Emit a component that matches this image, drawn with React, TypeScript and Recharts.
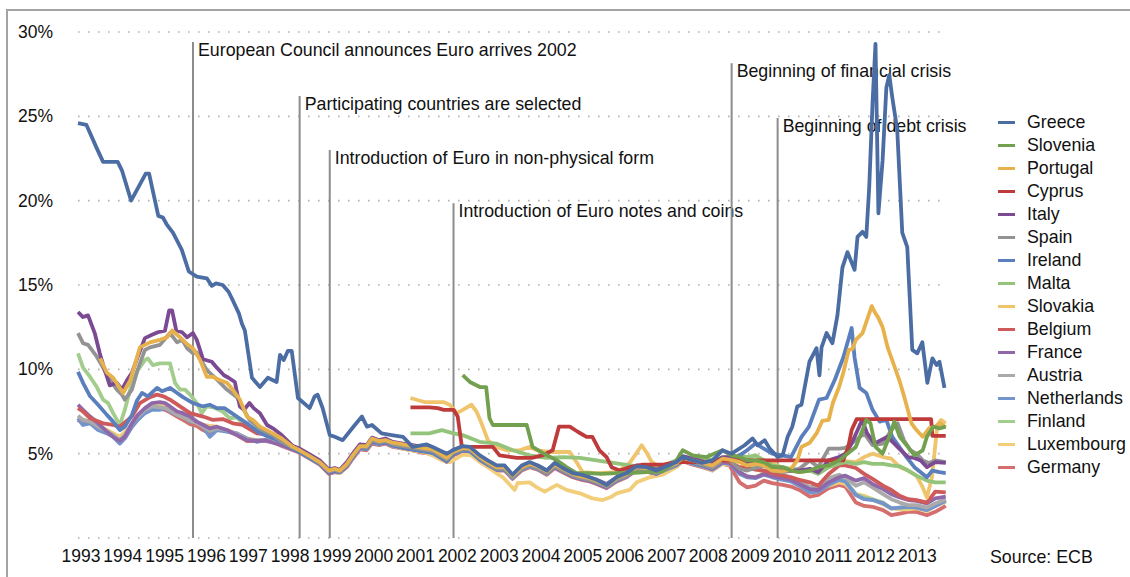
import React from 'react';
import { LineChart, Line, XAxis, YAxis, CartesianGrid, ReferenceLine } from 'recharts';

type Pt = [number, number];

// long-term government bond yields, %
const years = [1993, 1994, 1995, 1996, 1997, 1998, 1999, 2000, 2001, 2002, 2003, 2004, 2005, 2006, 2007, 2008, 2009, 2010, 2011, 2012, 2013];
const yTicks = [0, 5, 10, 15, 20, 25, 30];

// shared sample dates for the converged euro period and for the crisis period
const euroYears = [1998.14, 1998.3, 1998.54, 1998.78, 1999.0, 1999.14, 1999.26, 1999.43, 1999.57, 1999.74, 1999.9, 2000.03, 2000.2, 2000.35, 2000.53, 2000.77, 2001.0, 2001.24, 2001.48, 2001.65, 2001.82, 2001.96, 2002.2, 2002.37, 2002.61, 2002.8, 2003.01, 2003.2, 2003.39, 2003.61, 2003.8, 2003.99, 2004.21, 2004.4, 2004.59, 2004.83, 2005.04, 2005.23, 2005.4, 2005.64, 2005.88, 2006.12, 2006.35, 2006.59, 2006.83, 2006.97, 2007.31, 2007.46, 2007.7, 2007.93, 2008.17, 2008.41, 2008.58];
const crisisYears = [2008.82, 2009.0, 2009.2, 2009.4, 2009.6, 2009.85, 2010.05, 2010.25, 2010.5, 2010.7, 2010.95, 2011.2, 2011.35, 2011.6, 2011.8, 2012.0, 2012.25, 2012.45, 2012.65, 2012.85, 2013.05, 2013.3, 2013.5, 2013.75];

const greece: Pt[] = [
  [1993.0, 24.6], [1993.2, 24.5], [1993.45, 23.1], [1993.6, 22.3], [1993.95, 22.3], [1994.05, 21.8], [1994.27, 20.0], [1994.62, 21.6], [1994.7, 21.6], [1994.92, 19.1],
  [1995.03, 19.0], [1995.12, 18.6], [1995.27, 18.1], [1995.48, 17.1], [1995.65, 15.8], [1995.84, 15.5], [1996.08, 15.4], [1996.2, 14.95], [1996.3, 15.1], [1996.46, 15.0],
  [1996.6, 14.6], [1996.7, 14.1], [1996.85, 13.3], [1996.92, 12.7], [1996.99, 12.3], [1997.16, 9.5], [1997.35, 8.95], [1997.54, 9.5], [1997.75, 9.25], [1997.83, 10.85],
  [1997.92, 10.55], [1998.02, 11.1], [1998.11, 11.1], [1998.26, 8.3], [1998.54, 7.7], [1998.66, 8.4], [1998.73, 8.5], [1998.85, 7.7], [1999.02, 6.1], [1999.14, 6.0],
  [1999.33, 5.8], [1999.62, 6.7], [1999.79, 7.2], [1999.91, 6.6], [2000.03, 6.7], [2000.26, 6.2], [2000.5, 6.1], [2000.77, 6.0], [2001.0, 5.4], [2001.34, 5.55],
  [2001.48, 5.4], [2001.82, 5.0], [2001.96, 5.2], [2002.2, 5.45], [2002.37, 5.4], [2002.61, 4.9], [2002.8, 4.6], [2003.01, 4.3], [2003.2, 4.3], [2003.39, 3.75],
  [2003.61, 4.3], [2003.8, 4.5], [2003.99, 4.3], [2004.21, 4.0], [2004.4, 4.45], [2004.59, 4.15], [2004.83, 3.85], [2005.04, 3.75], [2005.23, 3.6], [2005.4, 3.45],
  [2005.64, 3.15], [2005.88, 3.6], [2006.12, 3.85], [2006.35, 4.25], [2006.59, 4.2], [2006.83, 4.0], [2006.97, 4.15], [2007.31, 4.5], [2007.46, 4.8], [2007.7, 4.6],
  [2007.93, 4.45], [2008.17, 4.6], [2008.41, 5.2], [2008.63, 5.0], [2008.94, 5.5], [2009.13, 5.9], [2009.25, 5.5], [2009.42, 5.8], [2009.54, 5.3], [2009.73, 4.8],
  [2009.85, 4.9], [2009.97, 6.0], [2010.08, 6.6], [2010.2, 7.8], [2010.3, 7.9], [2010.49, 10.45], [2010.66, 11.25], [2010.73, 9.65], [2010.78, 11.3], [2010.9, 12.15],
  [2011.04, 11.55], [2011.16, 13.2], [2011.28, 16.05], [2011.4, 16.95], [2011.57, 15.9], [2011.64, 17.85], [2011.76, 18.15], [2011.85, 17.85], [2011.92, 20.8], [2012.0, 25.8],
  [2012.07, 29.3], [2012.14, 19.25], [2012.24, 22.4], [2012.33, 26.7], [2012.4, 27.45], [2012.47, 26.15], [2012.59, 24.2], [2012.71, 18.1], [2012.83, 17.25], [2012.88, 14.7],
  [2012.95, 11.15], [2013.07, 10.95], [2013.19, 11.6], [2013.31, 9.2], [2013.43, 10.65], [2013.53, 10.25], [2013.6, 10.45], [2013.72, 8.9],
];

const slovenia: Pt[] = [
  [2002.2, 9.65], [2002.37, 9.25], [2002.61, 8.95], [2002.76, 8.95], [2002.84, 7.1], [2002.92, 6.7], [2003.73, 6.7], [2003.87, 5.4], [2004.11, 5.05], [2004.45, 4.6],
  [2004.68, 4.2], [2004.92, 3.85], [2005.2, 3.85], [2005.5, 3.8], [2005.88, 3.85], [2006.2, 3.85], [2006.6, 3.9], [2006.98, 3.95], [2007.31, 4.6], [2007.46, 5.2],
  [2007.7, 4.9], [2008.03, 4.8], [2008.41, 5.2], [2008.63, 4.9], [2008.82, 4.8], [2009.0, 4.6], [2009.2, 4.6], [2009.4, 4.5], [2009.6, 4.2], [2009.85, 4.2],
  [2010.05, 4.0], [2010.25, 3.9], [2010.5, 4.0], [2010.7, 4.2], [2010.95, 4.3], [2011.2, 4.6], [2011.35, 4.9], [2011.6, 5.4], [2011.76, 6.4], [2011.85, 7.0],
  [2011.95, 6.8], [2012.07, 5.4], [2012.24, 5.0], [2012.4, 6.0], [2012.52, 6.9], [2012.65, 6.0], [2012.85, 5.4], [2013.0, 4.9], [2013.2, 5.2], [2013.3, 6.0],
  [2013.45, 6.6], [2013.6, 6.5], [2013.75, 6.6],
];

const portugalEarly: Pt[] = [
  [1993.53, 10.65], [1993.69, 9.8], [1993.84, 9.5], [1994.08, 8.6], [1994.25, 9.35], [1994.48, 11.3], [1994.72, 11.6], [1994.96, 11.75], [1995.13, 11.9], [1995.25, 12.3],
  [1995.44, 11.9], [1995.63, 11.45], [1995.75, 11.25], [1995.92, 10.55], [1996.08, 9.55], [1996.23, 9.55], [1996.4, 9.35], [1996.56, 9.2], [1996.7, 8.8], [1996.87, 8.2],
  [1997.04, 7.2], [1997.18, 7.0], [1997.35, 6.6], [1997.66, 6.2], [1997.87, 5.9],
];
const portugalEuro = [
  5.4, 5.2, 4.85, 4.5, 4.0, 4.1, 4.0, 4.4, 4.9, 5.45,
  5.45, 5.9, 5.75, 5.8, 5.65, 5.55, 5.45, 5.35, 5.25, 5.0,
  4.75, 5.1, 5.35, 5.3, 4.8, 4.5, 4.2, 4.2, 3.7, 4.2,
  4.4, 4.25, 3.95, 4.35, 4.1, 3.8, 3.65, 3.55, 3.4, 3.15,
  3.55, 3.8, 4.2, 4.15, 3.95, 4.1, 4.45, 4.75, 4.6, 4.45,
  4.3, 4.7, 4.65,
];
const portugalCrisis: Pt[] = [
  [2008.82, 4.5], [2009.0, 4.3], [2009.2, 4.4], [2009.4, 4.3], [2009.6, 4.0], [2009.85, 3.95], [2010.05, 4.1], [2010.2, 4.6], [2010.3, 5.4], [2010.5, 5.65],
  [2010.66, 6.2], [2010.8, 6.95], [2010.95, 7.0], [2011.05, 8.0], [2011.2, 8.95], [2011.3, 9.8], [2011.43, 11.15], [2011.52, 11.2], [2011.6, 11.75], [2011.76, 12.15],
  [2011.98, 13.75], [2012.05, 13.4], [2012.14, 13.05], [2012.24, 12.5], [2012.36, 11.3], [2012.47, 10.55], [2012.64, 9.35], [2012.76, 8.35], [2012.93, 6.8], [2013.05, 6.4],
  [2013.2, 6.0], [2013.35, 6.5], [2013.5, 6.6], [2013.62, 6.8], [2013.75, 6.55],
];

const cyprus: Pt[] = [
  [2000.95, 7.75], [2001.4, 7.75], [2001.6, 7.7], [2001.75, 7.6], [2001.98, 7.6], [2002.08, 7.2], [2002.18, 5.4], [2002.92, 5.4], [2003.08, 4.9], [2003.5, 4.75],
  [2003.85, 4.75], [2004.11, 4.9], [2004.35, 5.2], [2004.5, 6.6], [2004.76, 6.6], [2004.95, 6.3], [2005.16, 6.0], [2005.3, 6.0], [2005.47, 5.2], [2005.64, 4.8],
  [2005.76, 4.2], [2005.95, 4.0], [2006.2, 4.2], [2006.5, 4.35], [2007.0, 4.35], [2007.3, 4.5], [2007.6, 4.5], [2008.0, 4.5], [2008.3, 4.6], [2008.6, 4.6],
  [2011.3, 4.6], [2011.42, 5.4], [2011.5, 6.4], [2011.62, 7.05], [2013.4, 7.05], [2013.43, 6.05], [2013.75, 6.05],
];

const italyEarly: Pt[] = [
  [1993.0, 13.4], [1993.12, 13.1], [1993.24, 13.2], [1993.4, 12.15], [1993.52, 10.95], [1993.64, 9.95], [1993.76, 9.05], [1993.93, 9.2], [1994.05, 8.8], [1994.17, 9.35],
  [1994.29, 9.8], [1994.43, 10.75], [1994.6, 11.85], [1994.77, 12.05], [1994.91, 12.2], [1995.08, 12.3], [1995.18, 13.5], [1995.25, 13.5], [1995.35, 12.3], [1995.49, 12.2],
  [1995.61, 11.9], [1995.75, 12.15], [1995.84, 11.75], [1995.99, 10.6], [1996.2, 10.45], [1996.32, 10.1], [1996.49, 9.65], [1996.6, 9.5], [1996.75, 9.25], [1996.87, 7.8],
  [1996.97, 7.6], [1997.1, 8.0], [1997.2, 7.7], [1997.35, 7.4], [1997.52, 6.7], [1997.66, 6.5], [1997.87, 6.1],
];
const italyEuro = [
  5.45, 5.3, 4.95, 4.6, 4.05, 4.15, 4.05, 4.5, 5.0, 5.55,
  5.5, 5.95, 5.8, 5.9, 5.7, 5.6, 5.5, 5.4, 5.3, 5.05,
  4.8, 5.2, 5.4, 5.35, 4.85, 4.55, 4.25, 4.25, 3.75, 4.25,
  4.45, 4.3, 4.0, 4.4, 4.15, 3.85, 3.7, 3.6, 3.45, 3.2,
  3.6, 3.9, 4.3, 4.25, 4.05, 4.2, 4.55, 4.85, 4.7, 4.55,
  4.4, 4.8, 4.8,
];
const italyCrisis: Pt[] = [
  [2008.82, 4.6], [2009.0, 4.4], [2009.2, 4.5], [2009.4, 4.4], [2009.6, 4.2], [2009.85, 4.05], [2010.05, 4.0], [2010.25, 4.0], [2010.5, 4.1], [2010.7, 3.9],
  [2010.95, 4.6], [2011.2, 4.8], [2011.35, 5.0], [2011.5, 5.6], [2011.75, 7.0], [2011.87, 6.2], [2012.05, 5.6], [2012.2, 5.8], [2012.35, 6.0], [2012.52, 5.6],
  [2012.68, 5.2], [2012.85, 4.8], [2013.0, 4.75], [2013.15, 4.6], [2013.3, 4.2], [2013.5, 4.5], [2013.75, 4.45],
];

const spainEarly: Pt[] = [
  [1993.0, 12.15], [1993.12, 11.55], [1993.24, 11.45], [1993.45, 10.75], [1993.6, 10.1], [1993.76, 9.4], [1993.93, 8.8], [1994.05, 8.5], [1994.12, 8.2], [1994.29, 8.8],
  [1994.43, 10.0], [1994.6, 11.15], [1994.72, 11.3], [1994.96, 11.45], [1995.2, 12.15], [1995.37, 11.6], [1995.49, 11.75], [1995.61, 11.25], [1995.75, 10.95], [1995.84, 11.0],
  [1996.08, 9.95], [1996.32, 9.4], [1996.56, 8.8], [1996.8, 8.35], [1997.1, 7.0], [1997.4, 6.4], [1997.66, 6.1], [1997.87, 5.7],
];
const spainEuro = [
  5.35, 5.2, 4.85, 4.45, 3.95, 4.05, 3.95, 4.3, 4.85, 5.4,
  5.35, 5.8, 5.65, 5.75, 5.55, 5.45, 5.35, 5.25, 5.15, 4.9,
  4.65, 5.05, 5.25, 5.25, 4.75, 4.4, 4.1, 4.1, 3.6, 4.1,
  4.3, 4.15, 3.85, 4.25, 4.0, 3.7, 3.55, 3.45, 3.3, 3.05,
  3.45, 3.7, 4.1, 4.05, 3.85, 4.0, 4.35, 4.65, 4.5, 4.35,
  4.15, 4.6, 4.6,
];
const spainCrisis: Pt[] = [
  [2008.82, 4.1], [2009.0, 4.0], [2009.2, 4.15], [2009.4, 4.3], [2009.6, 4.0], [2009.85, 3.9], [2010.05, 4.0], [2010.25, 4.1], [2010.5, 4.6], [2010.7, 4.2],
  [2010.95, 5.3], [2011.2, 5.3], [2011.35, 5.35], [2011.6, 5.8], [2011.8, 6.2], [2012.0, 5.5], [2012.25, 5.6], [2012.45, 6.4], [2012.6, 6.8], [2012.75, 5.8],
  [2012.9, 5.2], [2013.05, 5.0], [2013.2, 4.6], [2013.35, 4.45], [2013.5, 4.6], [2013.75, 4.5],
];

const irelandEarly: Pt[] = [
  [1993.0, 9.85], [1993.12, 9.2], [1993.29, 8.4], [1993.48, 7.9], [1993.69, 7.3], [1993.84, 6.9], [1994.0, 6.4], [1994.12, 6.6], [1994.29, 7.3], [1994.41, 8.15],
  [1994.53, 8.6], [1994.67, 8.4], [1994.89, 8.9], [1995.01, 8.7], [1995.2, 8.9], [1995.37, 8.6], [1995.51, 8.35], [1995.75, 8.0], [1995.99, 7.8], [1996.15, 7.9],
  [1996.32, 7.7], [1996.5, 7.7], [1996.8, 7.2], [1997.04, 6.8], [1997.3, 6.3], [1997.55, 6.0], [1997.8, 5.8],
];
const irelandEuro = [
  5.3, 5.1, 4.75, 4.4, 3.9, 4.0, 3.9, 4.3, 4.8, 5.4,
  5.3, 5.75, 5.6, 5.7, 5.5, 5.35, 5.25, 5.15, 5.05, 4.8,
  4.55, 4.95, 5.2, 5.15, 4.65, 4.35, 4.05, 4.05, 3.6, 4.1,
  4.3, 4.15, 3.85, 4.25, 4.0, 3.7, 3.55, 3.45, 3.3, 3.05,
  3.45, 3.7, 4.1, 4.05, 3.85, 4.0, 4.35, 4.65, 4.45, 4.3,
  4.2, 4.6, 4.6,
];
const irelandCrisis: Pt[] = [
  [2008.82, 4.9], [2009.0, 5.2], [2009.2, 5.6], [2009.4, 5.3], [2009.6, 5.0], [2009.85, 4.9], [2010.05, 4.8], [2010.3, 6.0], [2010.48, 6.6], [2010.72, 8.2],
  [2010.9, 8.3], [2011.1, 9.4], [2011.3, 10.7], [2011.5, 12.45], [2011.57, 10.7], [2011.69, 8.9], [2011.85, 8.6], [2012.0, 7.6], [2012.17, 6.9], [2012.33, 7.0],
  [2012.47, 6.0], [2012.64, 5.4], [2012.81, 4.8], [2013.0, 4.2], [2013.3, 3.6], [2013.43, 4.0], [2013.6, 3.9], [2013.75, 3.85],
];

const malta: Pt[] = [
  [2000.95, 6.2], [2001.4, 6.2], [2001.7, 6.4], [2001.98, 6.2], [2002.2, 6.1], [2002.6, 5.7], [2003.0, 5.6], [2003.4, 5.2], [2003.8, 4.9], [2004.2, 4.75],
  [2004.6, 4.8], [2005.0, 4.75], [2005.4, 4.6], [2005.8, 4.45], [2006.2, 4.3], [2006.6, 4.2], [2007.0, 4.3], [2007.3, 4.6], [2007.5, 4.8], [2007.75, 4.7],
  [2008.0, 4.6], [2008.3, 4.7], [2008.58, 4.8], [2008.82, 4.9], [2009.0, 4.8], [2009.2, 4.9], [2009.4, 4.6], [2009.6, 4.3], [2009.85, 4.2], [2010.05, 4.1],
  [2010.25, 4.05], [2010.5, 4.0], [2010.7, 3.8], [2010.95, 4.2], [2011.2, 4.4], [2011.35, 4.5], [2011.6, 4.4], [2011.8, 4.5], [2012.0, 4.4], [2012.25, 4.4],
  [2012.45, 4.3], [2012.65, 4.25], [2012.85, 4.0], [2013.05, 3.7], [2013.3, 3.4], [2013.5, 3.3], [2013.75, 3.3],
];

const slovakia: Pt[] = [
  [2000.95, 8.3], [2001.3, 8.05], [2001.75, 8.05], [2001.89, 7.9], [2002.06, 7.4], [2002.2, 7.6], [2002.41, 7.9], [2002.53, 7.5], [2002.65, 6.8], [2002.8, 5.8],
  [2003.01, 5.4], [2003.25, 5.2], [2003.56, 5.2], [2003.8, 5.4], [2003.97, 5.2], [2004.28, 5.1], [2004.76, 5.1], [2004.92, 4.5], [2005.07, 3.9], [2005.4, 3.85],
  [2005.88, 3.9], [2006.19, 4.45], [2006.36, 5.05], [2006.48, 5.5], [2006.6, 5.05], [2006.72, 4.5], [2006.98, 4.15], [2007.31, 4.45], [2007.5, 4.7], [2007.75, 4.5],
  [2008.0, 4.4], [2008.3, 4.6], [2008.58, 4.7], [2008.82, 4.6], [2009.0, 4.7], [2009.2, 4.9], [2009.4, 4.6], [2009.6, 4.5], [2009.85, 4.1], [2010.05, 4.0],
  [2010.25, 3.9], [2010.5, 4.0], [2010.7, 4.0], [2010.95, 4.4], [2011.2, 4.7], [2011.35, 4.55], [2011.6, 4.5], [2011.8, 4.8], [2012.0, 5.0], [2012.25, 4.8],
  [2012.45, 4.7], [2012.65, 4.2], [2012.85, 4.0], [2013.05, 3.7], [2013.2, 3.0], [2013.3, 2.4], [2013.42, 3.6], [2013.55, 6.7], [2013.64, 7.0], [2013.75, 6.8],
];

const belgiumEarly: Pt[] = [
  [1993.0, 7.7], [1993.12, 7.5], [1993.29, 7.1], [1993.6, 6.8], [1993.84, 6.7], [1994.0, 6.6], [1994.29, 7.2], [1994.48, 8.0], [1994.72, 8.35], [1994.89, 8.5],
  [1995.04, 8.4], [1995.2, 8.2], [1995.44, 7.8], [1995.68, 7.4], [1995.99, 7.2], [1996.23, 7.0], [1996.46, 7.05], [1996.7, 6.8], [1996.94, 6.7], [1997.28, 6.2],
  [1997.52, 6.15], [1997.75, 5.85],
];
const belgiumEuro = [
  5.4, 5.2, 4.85, 4.5, 4.0, 4.1, 4.0, 4.35, 4.9, 5.45,
  5.4, 5.85, 5.7, 5.75, 5.6, 5.5, 5.4, 5.3, 5.2, 4.95,
  4.7, 5.1, 5.3, 5.3, 4.8, 4.45, 4.15, 4.15, 3.7, 4.2,
  4.35, 4.2, 3.9, 4.3, 4.05, 3.75, 3.6, 3.5, 3.35, 3.1,
  3.5, 3.75, 4.15, 4.1, 3.9, 4.05, 4.4, 4.7, 4.5, 4.35,
  4.25, 4.6, 4.5,
];
const belgiumCrisis = [4.2, 4.15, 4.05, 4.0, 3.85, 3.7, 3.6, 3.45, 3.3, 3.1, 3.8, 4.3, 4.3, 4.15, 3.8, 3.5, 3.1, 2.85, 2.5, 2.3, 2.25, 2.1, 2.75, 2.7];

const franceEarly: Pt[] = [
  [1993.0, 7.9], [1993.12, 7.6], [1993.29, 7.2], [1993.48, 6.8], [1993.69, 6.3], [1993.84, 6.0], [1994.0, 5.75], [1994.12, 6.0], [1994.29, 6.8], [1994.43, 7.3],
  [1994.6, 7.7], [1994.77, 8.0], [1994.96, 8.05], [1995.08, 8.0], [1995.2, 7.8], [1995.37, 7.5], [1995.51, 7.4], [1995.68, 7.2], [1995.84, 6.9], [1996.0, 6.7],
  [1996.15, 6.5], [1996.32, 6.6], [1996.56, 6.4], [1996.8, 6.1], [1997.04, 5.8], [1997.28, 5.75], [1997.47, 5.8], [1997.66, 5.65], [1997.87, 5.5],
];
const franceEuro = [
  5.25, 5.1, 4.75, 4.4, 3.85, 3.95, 3.9, 4.25, 4.8, 5.35,
  5.3, 5.7, 5.6, 5.65, 5.5, 5.35, 5.25, 5.15, 5.1, 4.85,
  4.55, 4.95, 5.2, 5.2, 4.65, 4.35, 4.05, 4.1, 3.6, 4.1,
  4.3, 4.15, 3.85, 4.2, 3.95, 3.65, 3.5, 3.4, 3.25, 3.0,
  3.4, 3.7, 4.05, 4.05, 3.8, 4.0, 4.35, 4.6, 4.45, 4.3,
  4.1, 4.5, 4.45,
];
const franceCrisis = [3.9, 3.65, 3.6, 3.8, 3.65, 3.55, 3.45, 3.2, 2.9, 2.85, 3.3, 3.6, 3.7, 3.4, 3.55, 3.2, 2.9, 2.6, 2.4, 2.25, 2.2, 2.05, 2.35, 2.45];

const austriaEarly: Pt[] = [
  [1993.0, 7.25], [1993.12, 7.0], [1993.29, 6.9], [1993.48, 6.6], [1993.69, 6.35], [1993.84, 6.1], [1994.0, 5.8], [1994.12, 6.1], [1994.29, 6.8], [1994.43, 7.2],
  [1994.6, 7.6], [1994.77, 7.8], [1994.96, 7.75], [1995.08, 7.7], [1995.2, 7.55], [1995.37, 7.3], [1995.51, 7.15], [1995.68, 6.95], [1995.84, 6.8], [1995.99, 6.6],
  [1996.15, 6.35], [1996.32, 6.5], [1996.56, 6.4], [1996.8, 6.15], [1997.04, 5.85], [1997.28, 5.8], [1997.47, 5.8], [1997.66, 5.7], [1997.87, 5.5],
];
const austriaEuro = [
  5.35, 5.15, 4.8, 4.5, 3.9, 4.05, 3.95, 4.3, 4.85, 5.4,
  5.35, 5.8, 5.65, 5.7, 5.55, 5.45, 5.35, 5.25, 5.15, 4.9,
  4.65, 5.05, 5.25, 5.25, 4.75, 4.45, 4.1, 4.15, 3.65, 4.15,
  4.35, 4.2, 3.9, 4.3, 4.05, 3.75, 3.6, 3.45, 3.35, 3.1,
  3.5, 3.75, 4.15, 4.1, 3.9, 4.05, 4.4, 4.7, 4.5, 4.35,
  4.2, 4.6, 4.6,
];
const austriaCrisis = [4.1, 4.2, 4.1, 4.0, 3.9, 3.75, 3.6, 3.4, 3.0, 3.1, 3.55, 3.75, 3.6, 3.1, 3.3, 3.0, 2.6, 2.3, 2.1, 1.95, 1.95, 1.8, 2.05, 2.3];

const netherlandsEarly: Pt[] = [
  [1993.0, 7.1], [1993.12, 6.7], [1993.29, 6.8], [1993.48, 6.4], [1993.69, 6.2], [1993.84, 6.0], [1994.0, 5.6], [1994.12, 5.9], [1994.29, 6.6], [1994.43, 7.0],
  [1994.6, 7.4], [1994.77, 7.6], [1994.96, 7.6], [1995.08, 7.7], [1995.2, 7.5], [1995.37, 7.3], [1995.51, 7.2], [1995.68, 6.9], [1995.84, 6.9], [1995.99, 6.6],
  [1996.15, 6.0], [1996.32, 6.4], [1996.56, 6.3], [1996.8, 6.2], [1997.04, 5.9], [1997.28, 5.7], [1997.47, 5.8], [1997.66, 5.75], [1997.87, 5.5],
];
const netherlandsEuro = [
  5.25, 5.1, 4.75, 4.4, 3.85, 3.95, 3.9, 4.25, 4.75, 5.3,
  5.25, 5.7, 5.55, 5.65, 5.45, 5.35, 5.25, 5.15, 5.05, 4.8,
  4.55, 4.95, 5.2, 5.15, 4.65, 4.35, 4.05, 4.05, 3.55, 4.05,
  4.25, 4.1, 3.8, 4.2, 3.95, 3.65, 3.5, 3.4, 3.25, 3.0,
  3.4, 3.65, 4.05, 4.0, 3.8, 3.95, 4.3, 4.6, 4.4, 4.25,
  4.05, 4.45, 4.4,
];
const netherlandsCrisis = [3.8, 3.6, 3.55, 3.75, 3.6, 3.45, 3.35, 3.1, 2.7, 2.75, 3.15, 3.45, 3.35, 2.55, 2.3, 2.25, 2.05, 1.75, 1.8, 1.85, 1.8, 1.65, 1.9, 2.2];

const finlandEarly: Pt[] = [
  [1993.0, 10.95], [1993.12, 10.1], [1993.29, 9.55], [1993.45, 8.95], [1993.6, 8.2], [1993.72, 8.0], [1993.84, 7.4], [1994.0, 6.7], [1994.12, 7.6], [1994.29, 9.2],
  [1994.43, 9.95], [1994.6, 10.55], [1994.67, 10.65], [1994.79, 10.25], [1994.96, 10.35], [1995.2, 10.35], [1995.32, 9.2], [1995.44, 8.8], [1995.56, 8.8], [1995.68, 8.5],
  [1995.84, 8.0], [1995.96, 7.4], [1996.08, 7.8], [1996.23, 7.75], [1996.46, 7.5], [1996.63, 7.1], [1996.8, 7.15], [1996.94, 6.8], [1997.1, 6.5], [1997.28, 6.5],
  [1997.5, 6.2], [1997.75, 5.8],
];
const finlandEuro = [
  5.3, 5.15, 4.8, 4.45, 3.9, 4.0, 3.9, 4.3, 4.85, 5.4,
  5.3, 5.75, 5.6, 5.7, 5.5, 5.4, 5.3, 5.2, 5.1, 4.85,
  4.6, 5.0, 5.25, 5.2, 4.7, 4.4, 4.1, 4.1, 3.6, 4.1,
  4.3, 4.15, 3.85, 4.25, 4.0, 3.7, 3.55, 3.45, 3.3, 3.05,
  3.45, 3.7, 4.1, 4.05, 3.85, 4.0, 4.35, 4.65, 4.45, 4.3,
  4.1, 4.5, 4.5,
];
const finlandCrisis = [3.85, 3.65, 3.6, 3.8, 3.65, 3.5, 3.4, 3.15, 2.75, 2.8, 3.2, 3.5, 3.4, 2.6, 2.4, 2.3, 2.1, 1.75, 1.8, 1.8, 1.85, 1.7, 1.95, 2.25];

const luxembourg: Pt[] = [
  [1993.0, 7.1], [1993.29, 6.9], [1993.69, 6.4], [1994.0, 6.0], [1994.29, 6.7], [1994.6, 7.6], [1994.77, 7.8], [1995.08, 7.85], [1995.37, 7.4], [1995.68, 7.0],
  [1995.99, 6.7], [1996.32, 6.6], [1996.56, 6.4], [1996.8, 6.2], [1997.04, 5.9], [1997.28, 5.8], [1997.47, 5.8], [1997.66, 5.7], [1997.87, 5.5], [1998.14, 5.25],
  [1998.3, 5.1], [1998.54, 4.75], [1998.78, 4.4], [1999.0, 3.85], [1999.14, 3.95], [1999.26, 3.85], [1999.43, 4.25], [1999.57, 4.75], [1999.74, 5.3], [1999.9, 5.25],
  [2000.03, 5.7], [2000.2, 5.55], [2000.35, 5.65], [2000.53, 5.45], [2000.77, 5.3], [2001.0, 5.2], [2001.24, 5.1], [2001.48, 4.9], [2001.7, 4.6], [2001.9, 4.5],
  [2002.2, 4.95], [2002.4, 4.9], [2002.61, 4.5], [2002.8, 4.2], [2003.0, 3.85], [2003.16, 3.6], [2003.44, 2.85], [2003.51, 3.25], [2003.8, 3.3], [2003.97, 3.0],
  [2004.16, 2.75], [2004.45, 3.15], [2004.68, 2.85], [2005.0, 2.65], [2005.3, 2.35], [2005.55, 2.25], [2005.76, 2.45], [2005.88, 2.65], [2006.19, 2.85], [2006.36, 3.3],
  [2006.67, 3.6], [2006.98, 3.75], [2007.31, 4.2], [2007.46, 4.6], [2007.7, 4.4], [2007.93, 4.25], [2008.17, 4.0], [2008.41, 4.4], [2008.58, 4.35],
];
const luxembourgCrisis = [4.2, 4.3, 4.1, 3.9, 3.8, 3.6, 3.5, 3.3, 3.0, 2.9, 3.1, 3.3, 3.2, 2.6, 2.5, 2.3, 2.0, 1.75, 1.7, 1.7, 1.75, 1.6, 1.9, 2.15];

const germanyEarly: Pt[] = [
  [1993.0, 7.0], [1993.12, 6.8], [1993.29, 6.85], [1993.48, 6.5], [1993.69, 6.25], [1993.84, 6.05], [1994.0, 5.7], [1994.12, 5.95], [1994.29, 6.6], [1994.43, 7.05],
  [1994.6, 7.5], [1994.77, 7.7], [1994.96, 7.65], [1995.08, 7.6], [1995.2, 7.45], [1995.37, 7.2], [1995.51, 7.0], [1995.68, 6.75], [1995.84, 6.65], [1995.99, 6.4],
  [1996.15, 6.2], [1996.32, 6.45], [1996.56, 6.35], [1996.8, 6.1], [1997.04, 5.75], [1997.28, 5.75], [1997.47, 5.75], [1997.66, 5.7], [1997.87, 5.45],
];
const germanyEuro = [
  5.2, 5.05, 4.7, 4.35, 3.8, 3.9, 3.85, 4.2, 4.7, 5.25,
  5.2, 5.6, 5.5, 5.6, 5.4, 5.3, 5.2, 5.05, 5.0, 4.75,
  4.5, 4.9, 5.1, 5.1, 4.6, 4.3, 4.0, 4.0, 3.5, 4.0,
  4.2, 4.05, 3.75, 4.15, 3.9, 3.6, 3.45, 3.35, 3.2, 2.95,
  3.35, 3.6, 4.0, 3.95, 3.75, 3.9, 4.25, 4.55, 4.35, 4.2,
  4.0, 4.4, 4.3,
];
const germanyCrisis = [3.3, 3.0, 3.1, 3.4, 3.25, 3.15, 3.05, 2.85, 2.45, 2.55, 2.95, 3.15, 3.05, 2.1, 1.9, 1.85, 1.65, 1.35, 1.45, 1.55, 1.55, 1.35, 1.55, 1.9];

const events = [
  { year: 1995.75, level: 29.4, text: 'European Council announces Euro arrives 2002' },
  { year: 1998.3, level: 26.2, text: 'Participating countries are selected' },
  { year: 1999.02, level: 23.0, text: 'Introduction of Euro in non-physical form' },
  { year: 2001.98, level: 19.85, text: 'Introduction of Euro notes and coins' },
  { year: 2008.63, level: 28.15, text: 'Beginning of financial crisis' },
  { year: 2009.73, level: 24.9, text: 'Beginning of debt crisis' },
];

const zip = (ts: number[], vs: number[]): Pt[] =>
  ts.map((t, i) => [t, vs[i]] as Pt).filter((p) => p[1] !== undefined);

const series = [
  { name: 'Greece', color: '#4b6da3', points: greece },
  { name: 'Slovenia', color: '#72a04e', points: slovenia },
  { name: 'Portugal', color: '#e7b14c', points: [...portugalEarly, ...zip(euroYears, portugalEuro), ...portugalCrisis] },
  { name: 'Cyprus', color: '#bf3b3b', points: cyprus },
  { name: 'Italy', color: '#7b4a93', points: [...italyEarly, ...zip(euroYears, italyEuro), ...italyCrisis] },
  { name: 'Spain', color: '#939393', points: [...spainEarly, ...zip(euroYears, spainEuro), ...spainCrisis] },
  { name: 'Ireland', color: '#5b7fbd', points: [...irelandEarly, ...zip(euroYears, irelandEuro), ...irelandCrisis] },
  { name: 'Malta', color: '#94c47c', points: malta },
  { name: 'Slovakia', color: '#f0c46c', points: slovakia },
  { name: 'Belgium', color: '#cf5a5a', points: [...belgiumEarly, ...zip(euroYears, belgiumEuro), ...zip(crisisYears, belgiumCrisis)] },
  { name: 'France', color: '#9068aa', points: [...franceEarly, ...zip(euroYears, franceEuro), ...zip(crisisYears, franceCrisis)] },
  { name: 'Austria', color: '#aaaaaa', points: [...austriaEarly, ...zip(euroYears, austriaEuro), ...zip(crisisYears, austriaCrisis)] },
  { name: 'Netherlands', color: '#7495cc', points: [...netherlandsEarly, ...zip(euroYears, netherlandsEuro), ...zip(crisisYears, netherlandsCrisis)] },
  { name: 'Finland', color: '#a3cd8c', points: [...finlandEarly, ...zip(euroYears, finlandEuro), ...zip(crisisYears, finlandCrisis)] },
  { name: 'Luxembourg', color: '#f2cd7a', points: [...luxembourg, ...zip(crisisYears, luxembourgCrisis)] },
  { name: 'Germany', color: '#d56f6f', points: [...germanyEarly, ...zip(euroYears, germanyEuro), ...zip(crisisYears, germanyCrisis)] },
];

const FONT = "'Liberation Sans', Arial, Helvetica, sans-serif";

const YTick = ({ x, y, payload }: any) =>
  payload.value === 0 ? null : (
    <text x={x} y={y} dy="0.35em" textAnchor="end" fontSize={17.5} fill="#111" fontFamily={FONT}>
      {`${payload.value}%`}
    </text>
  );

const XTick = ({ x, y, payload }: any) => (
  <text x={x + 3} y={y} dy="0.71em" textAnchor="middle" fontSize={17.5} fill="#111" fontFamily={FONT}>
    {payload.value}
  </text>
);

const eventLabel = (text: string) => (props: any) => {
  const vb = props.viewBox || {};
  return (
    <text x={vb.x + 5} y={vb.y + 14} fontSize={17.8} fill="#111" fontFamily={FONT}>
      {text}
    </text>
  );
};

export default function App() {
  // drawn back to front so Greece ends up on top, like the original
  const drawOrder = [...series].reverse();

  return (
    <div style={{ position: 'relative', width: 1130, height: 577, overflow: 'hidden', background: '#fff', fontFamily: FONT }}>
      <style>{'body{margin:0}'}</style>
      <div style={{ position: 'absolute', left: 6, top: 9, width: 1400, height: 900, border: '2px solid #a4a4a4' }} />
      <div style={{ position: 'absolute', left: 0, top: 0 }}>
        <LineChart width={1130} height={577} margin={{ top: 32, right: 183, bottom: 9, left: 8 }}>
          <CartesianGrid vertical={false} stroke="#b3b3b3" strokeWidth={1.6} strokeDasharray="1.6 8.4" />
          <XAxis
            type="number"
            dataKey="t"
            domain={[1993, 2013.78]}
            ticks={years}
            interval={0}
            axisLine={false}
            tickLine={false}
            tickSize={0}
            tickMargin={12}
            height={30}
            tick={<XTick />}
          />
          <YAxis
            type="number"
            domain={[0, 30]}
            ticks={yTicks}
            interval={0}
            axisLine={false}
            tickLine={false}
            tickSize={0}
            tickMargin={25}
            width={70}
            tick={<YTick />}
          />
          {events.map((e) => (
            <ReferenceLine
              key={e.text}
              segment={[{ x: e.year, y: 0 }, { x: e.year, y: e.level }]}
              stroke="#8c8c8c"
              strokeWidth={2}
              label={eventLabel(e.text)}
            />
          ))}
          {drawOrder.map((s) => (
            <Line
              key={s.name}
              name={s.name}
              data={s.points.map(([t, v]) => ({ t, v }))}
              dataKey="v"
              type="linear"
              stroke={s.color}
              strokeWidth={3.8}
              strokeLinejoin="round"
              dot={false}
              activeDot={false}
              isAnimationActive={false}
            />
          ))}
        </LineChart>
      </div>
      <div style={{ position: 'absolute', left: 998, top: 111 }}>
        {series.map((s) => (
          <div key={s.name} style={{ height: 23, display: 'flex', alignItems: 'center' }}>
            <span style={{ display: 'inline-block', width: 17, height: 3, background: s.color, marginRight: 12 }} />
            <span style={{ fontSize: 17.8, color: '#111', lineHeight: '23px' }}>{s.name}</span>
          </div>
        ))}
      </div>
      <div style={{ position: 'absolute', left: 990, top: 546, fontSize: 17.8, color: '#111', lineHeight: '22px' }}>
        Source: ECB
      </div>
    </div>
  );
}
